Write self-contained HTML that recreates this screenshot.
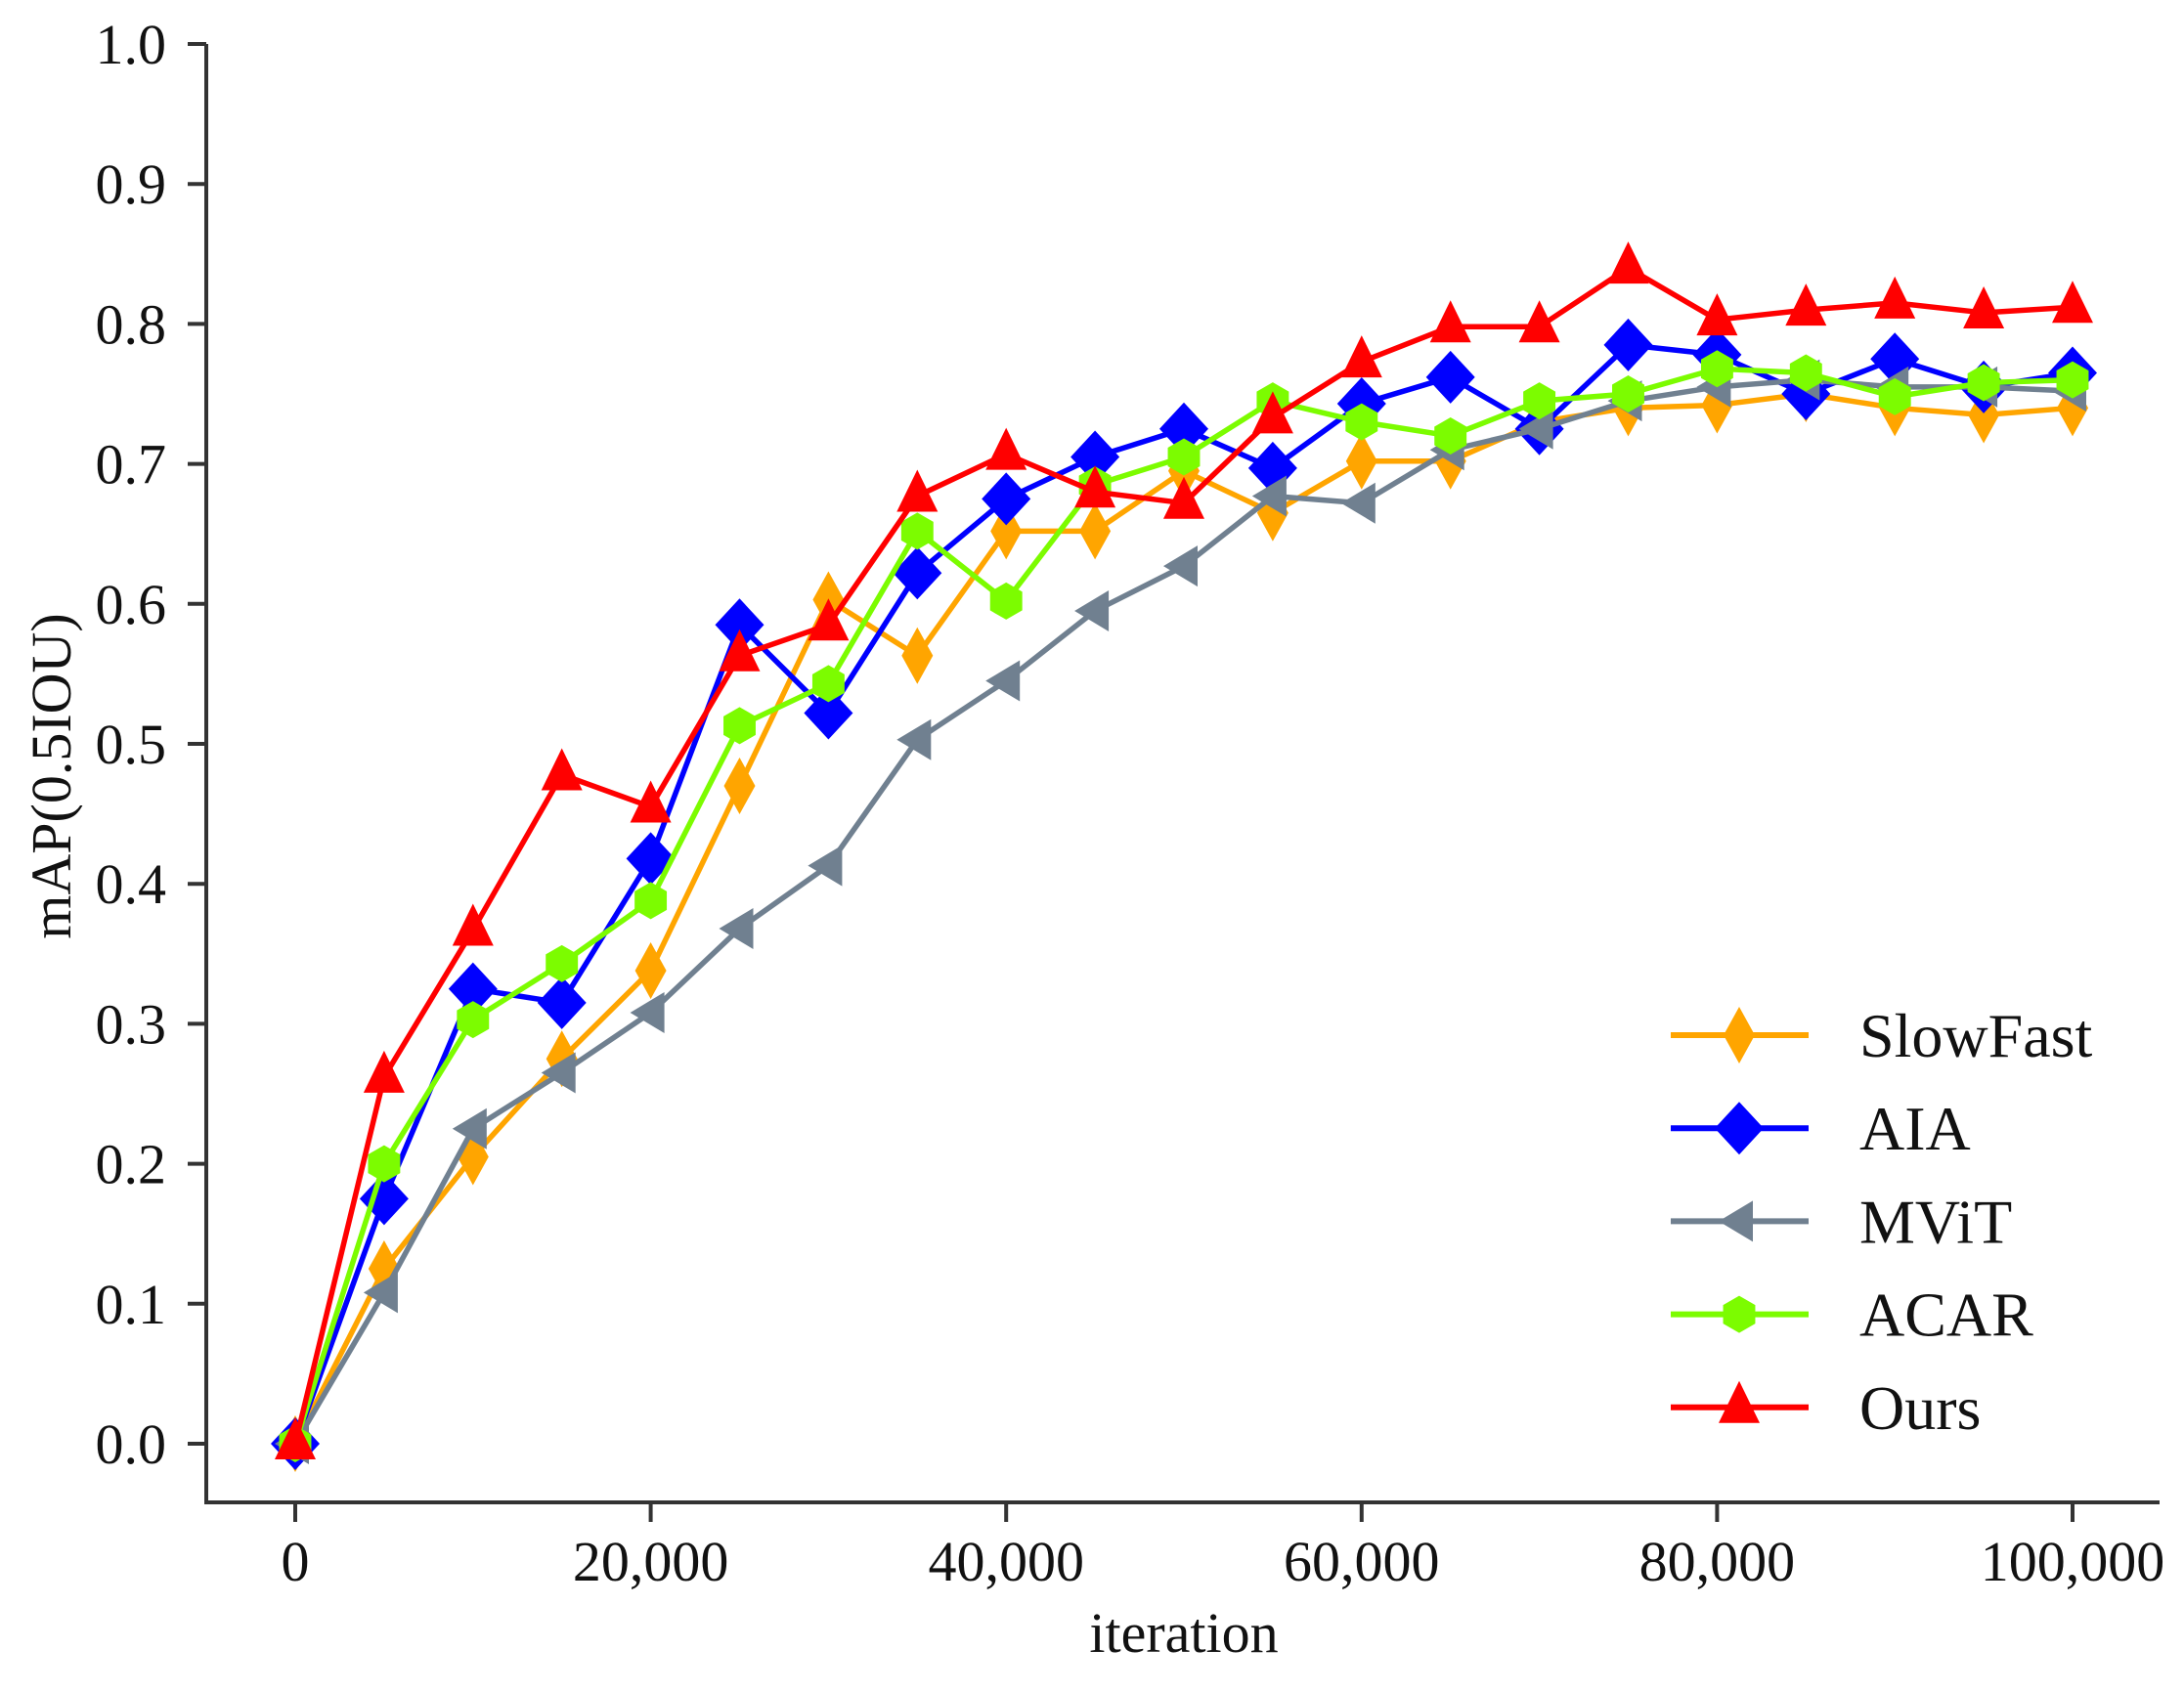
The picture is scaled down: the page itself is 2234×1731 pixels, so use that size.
<!DOCTYPE html>
<html><head><meta charset="utf-8"><style>
html,body{margin:0;padding:0;background:#fff;}
svg{display:block;font-family:"Liberation Serif",serif;}
</style></head><body>
<svg id="s" width="2234" height="1731" xmlns="http://www.w3.org/2000/svg"></svg>
<script>
const s=document.getElementById('s');
const NS='http://www.w3.org/2000/svg';
function el(t,a,txt){const e=document.createElementNS(NS,t);for(const k in a)e.setAttribute(k,a[k]);if(txt!==undefined)e.textContent=txt;s.appendChild(e);return e;}
const X=i=>302+i*90.9, Y=v=>1477-v*1432;
el('line',{x1:211,y1:45,x2:211,y2:1539,stroke:'#333','stroke-width':4});
el('line',{x1:209,y1:1537,x2:2209,y2:1537,stroke:'#333','stroke-width':4});
for(let k=0;k<=10;k++){const y=Y(k/10);
 el('line',{x1:192,y1:y,x2:211,y2:y,stroke:'#333','stroke-width':4});
 el('text',{x:170,y:y+20,'font-size':58,'text-anchor':'end',fill:'#111'},(k/10).toFixed(1));}
const xl=['0','20,000','40,000','60,000','80,000','100,000'];
for(let k=0;k<=5;k++){const x=X(k*4);
 el('line',{x1:x,y1:1537,x2:x,y2:1557,stroke:'#333','stroke-width':4});
 el('text',{x:x,y:1617,'font-size':58,'text-anchor':'middle',fill:'#111'},xl[k]);}
el('text',{x:1211,y:1690,'font-size':58,'text-anchor':'middle',fill:'#111'},'iteration');
el('text',{x:0,y:0,'font-size':58,'text-anchor':'middle',fill:'#111',transform:'translate(72,794) rotate(-90)'},'mAP(0.5IOU)');
const D={
SlowFast:['#FFA500','d',[0,0.125,0.205,0.275,0.338,0.47,0.603,0.563,0.652,0.652,0.695,0.665,0.702,0.702,0.73,0.74,0.742,0.75,0.74,0.735,0.74]],
AIA:['#0000FF','D',[0,0.175,0.325,0.315,0.418,0.585,0.522,0.622,0.675,0.705,0.725,0.697,0.743,0.762,0.725,0.785,0.778,0.75,0.775,0.755,0.765]],
MViT:['#708090','<',[0,0.108,0.225,0.265,0.308,0.368,0.413,0.503,0.545,0.595,0.627,0.677,0.672,0.71,0.725,0.745,0.755,0.76,0.755,0.755,0.752]],
ACAR:['#7CFC00','h',[0,0.2,0.303,0.343,0.388,0.513,0.543,0.652,0.602,0.685,0.705,0.745,0.73,0.72,0.745,0.75,0.768,0.765,0.748,0.758,0.76]],
Ours:['#FF0000','^',[0,0.262,0.367,0.478,0.455,0.563,0.585,0.677,0.707,0.68,0.672,0.733,0.773,0.798,0.798,0.84,0.803,0.81,0.815,0.808,0.812]]};
function mk(t,x,y,c){let p;
 if(t=='d')p=[[x,y-29],[x+16,y],[x,y+29],[x-16,y]];
 else if(t=='D')p=[[x,y-27],[x+25,y],[x,y+27],[x-25,y]];
 else if(t=='<')p=[[x-21,y],[x+14,y-21],[x+14,y+21]];
 else if(t=='^')p=[[x,y-27],[x+21,y+16],[x-21,y+16]];
 else{p=[];for(let i=0;i<6;i++){const a=Math.PI/2+i*Math.PI/3;p.push([x+19*Math.cos(a),y-19*Math.sin(a)]);}}
 el('polygon',{points:p.map(q=>q.join(',')).join(' '),fill:c});}
let ly=1059;
for(const n in D){const [c,t,v]=D[n];
 el('polyline',{points:v.map((d,i)=>X(i)+','+Y(d)).join(' '),fill:'none',stroke:c,'stroke-width':5.5,'stroke-linejoin':'round'});
 v.forEach((d,i)=>mk(t,X(i),Y(d),c));
 el('line',{x1:1709,y1:ly,x2:1850,y2:ly,stroke:c,'stroke-width':6});
 mk(t,1779,ly,c);
 el('text',{x:1902,y:ly+22,'font-size':64,fill:'#111'},n);
 ly+=95.2;}
</script>
</body></html>
